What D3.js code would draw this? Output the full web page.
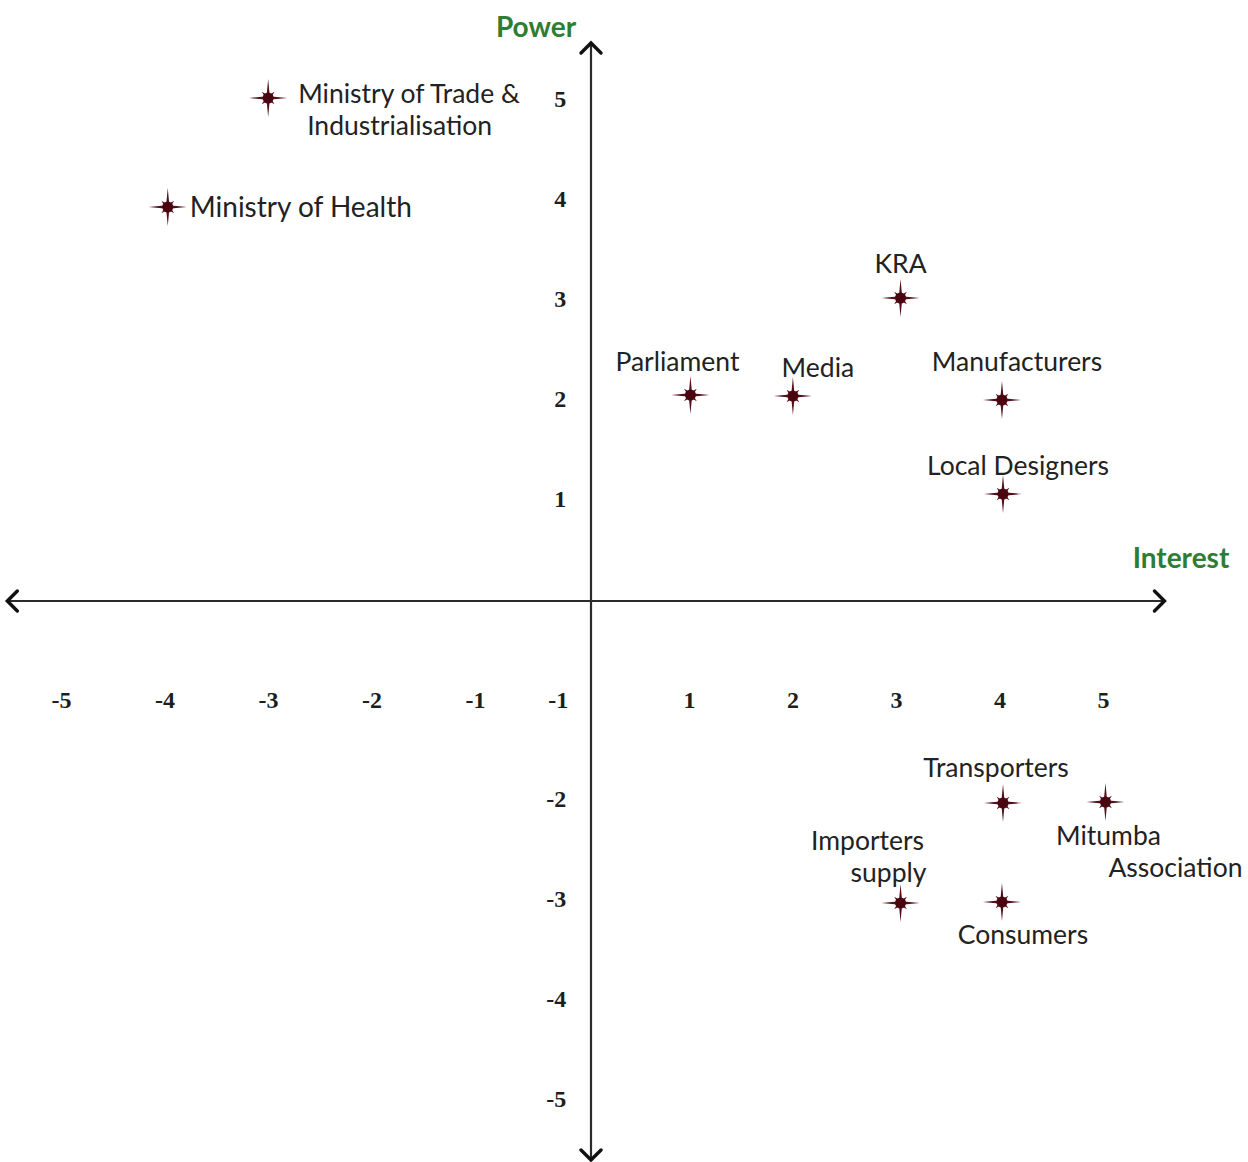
<!DOCTYPE html>
<html>
<head>
<meta charset="utf-8">
<script src="https://cdn.jsdelivr.net/npm/d3@7"></script>
<style>
  html, body { margin: 0; padding: 0; background: #fff; }
  svg { display: block; }
</style>
</head>
<body>
<div id="chart"></div>
<script>
// stakeholders (interest, power)
var names = ['Ministry of Trade &\nIndustrialisation', 'Ministry of Health', 'KRA', 'Parliament', 'Media',
    'Manufacturers', 'Local Designers', 'Transporters', 'Mitumba\nAssociation', 'Importers\nsupply', 'Consumers'];
var interest = [-3.1, -4.07, 3.01, 0.98, 1.97, 3.99, 4.0, 4.0, 4.99, 3.01, 3.99];
var power = [5.02, 3.93, 3.02, 2.05, 2.04, 2.0, 1.06, -2.03, -2.02, -3.03, -3.02];

var xTicks = [-5, -4, -3, -2, -1, 1, 2, 3, 4, 5];
var yTicks = [5, 4, 3, 2, 1, -1, -2, -3, -4, -5];

var xTitle = 'Interest';
var yTitle = 'Power';

// label placement relative to each star: [dx, dy, anchor, second-line dx, font size]
var labelPos = {
    'Ministry of Trade &\nIndustrialisation': [30, 5, 'start', 9, 26.5],
    'Ministry of Health': [22, 10, 'start', 0, 28],
    'KRA': [0, -25, 'middle', 0, 26.5],
    'Parliament': [-13, -24, 'middle', 0, 26.5],
    'Media': [25, -19, 'middle', 0, 26.5],
    'Manufacturers': [15, -29, 'middle', 0, 26.5],
    'Local Designers': [15, -19, 'middle', 0, 26.5],
    'Transporters': [-7, -26, 'middle', 0, 26.5],
    'Mitumba\nAssociation': [3, 43, 'middle', 67, 26.5],
    'Importers\nsupply': [-33, -53, 'middle', 21, 26.5],
    'Consumers': [21, 42, 'middle', 0, 26.5]
};

var width = 1248, height = 1162;

var x = d3.scaleLinear().domain([-5, 5]).range([71.5, 1106.5]);
var y = d3.scaleLinear().domain([-5, 5]).range([1100, 100]);

var svg = d3.select('#chart').append('svg')
    .attr('width', width)
    .attr('height', height);

var axisColor = '#2b2b2b';

// horizontal axis with arrow both ends
svg.append('line')
    .attr('x1', x(-5.62)).attr('x2', x(5.56))
    .attr('y1', y(0) + 1).attr('y2', y(0) + 1)
    .attr('stroke', axisColor).attr('stroke-width', 2.2);

// vertical axis
svg.append('line')
    .attr('x1', x(0) + 2).attr('x2', x(0) + 2)
    .attr('y1', y(5.57)).attr('y2', y(-5.6))
    .attr('stroke', axisColor).attr('stroke-width', 2.2);

function chevron(cx, cy, dir) {
    // dir: 'l','r','u','d'
    var s = 10, pts;
    if (dir == 'l') pts = [[cx + s, cy - s], [cx, cy], [cx + s, cy + s]];
    if (dir == 'r') pts = [[cx - s, cy - s], [cx, cy], [cx - s, cy + s]];
    if (dir == 'u') pts = [[cx - s, cy + s], [cx, cy], [cx + s, cy + s]];
    if (dir == 'd') pts = [[cx - s, cy - s], [cx, cy], [cx + s, cy - s]];
    svg.append('path')
        .attr('d', d3.line()(pts))
        .attr('fill', 'none')
        .attr('stroke', '#111')
        .attr('stroke-width', 3.4)
        .attr('stroke-linecap', 'round')
        .attr('stroke-linejoin', 'miter');
}
chevron(x(-5.62), y(0) + 1, 'l');
chevron(x(5.56), y(0) + 1, 'r');
chevron(x(0) + 2, y(5.57), 'u');
chevron(x(0) + 2, y(-5.6), 'd');

// tick labels
svg.selectAll('.xtick')
    .data(xTicks)
    .enter().append('text')
    .attr('class', 'xtick')
    .attr('x', function (d) { return x(d) + (d < 0 ? -10 : -3); })
    .attr('y', y(-1) + 8)
    .attr('text-anchor', 'middle')
    .style('font-family', 'Liberation Serif, serif')
    .style('font-weight', 'bold')
    .style('font-size', '24px')
    .style('fill', '#1e1e1e')
    .text(function (d) { return d; });

svg.selectAll('.ytick')
    .data(yTicks)
    .enter().append('text')
    .attr('class', 'ytick')
    .attr('x', function (d) { return d == -1 ? x(-0.2) : x(-0.22); })
    .attr('y', function (d) { return d == -1 ? y(-1) + 8 : y(d) + 7; })
    .attr('text-anchor', 'end')
    .style('font-family', 'Liberation Serif, serif')
    .style('font-weight', 'bold')
    .style('font-size', '24px')
    .style('fill', '#1e1e1e')
    .text(function (d) { return d; });

// axis titles
svg.append('text')
    .attr('x', x(0) - 53).attr('y', 37)
    .attr('text-anchor', 'middle')
    .style('font-family', 'Lato, sans-serif')
    .style('font-weight', 'bold')
    .style('font-size', '28px')
    .style('fill', '#2e7d32')
    .text(yTitle);

svg.append('text')
    .attr('x', 1181).attr('y', y(0) - 32)
    .attr('text-anchor', 'middle')
    .style('font-family', 'Lato, sans-serif')
    .style('font-weight', 'bold')
    .style('font-size', '28px')
    .style('fill', '#2e7d32')
    .text(xTitle);

// star marker path (8 point compass star)
function starPath() {
    var pts = [], n = 16;
    for (var i = 0; i < n; i++) {
        var a = i * Math.PI / 8, r;
        if (i % 4 == 0) r = 19;
        else if (i % 2 == 0) r = 9;
        else r = 3.8;
        pts.push([a, r]);
    }
    return d3.lineRadial().curve(d3.curveLinearClosed)(pts);
}

var points = names.map(function (n, i) {
    return { name: n, x: interest[i], y: power[i] };
});

var g = svg.selectAll('.pt')
    .data(points)
    .enter().append('g')
    .attr('class', 'pt')
    .attr('transform', function (d) { return 'translate(' + x(d.x) + ',' + y(d.y) + ')'; });

g.append('path')
    .attr('d', starPath())
    .attr('fill', '#54101a');

g.append('circle')
    .attr('r', 5.5)
    .attr('fill', '#4a0610');

g.append('text')
    .attr('text-anchor', function (d) { return labelPos[d.name][2]; })
    .attr('x', function (d) { return labelPos[d.name][0]; })
    .attr('y', function (d) { return labelPos[d.name][1]; })
    .style('font-family', 'Lato, sans-serif')
    .style('font-size', function (d) { return labelPos[d.name][4] + 'px'; })
    .style('fill', '#222')
    .each(function (d) {
        var lines = d.name.split('\n');
        var t = d3.select(this);
        var p = labelPos[d.name];
        lines.forEach(function (l, i) {
            t.append('tspan')
                .attr('x', p[0] + (i > 0 ? p[3] : 0))
                .attr('dy', i == 0 ? 0 : 32)
                .text(l);
        });
    });
</script>
</body>
</html>
